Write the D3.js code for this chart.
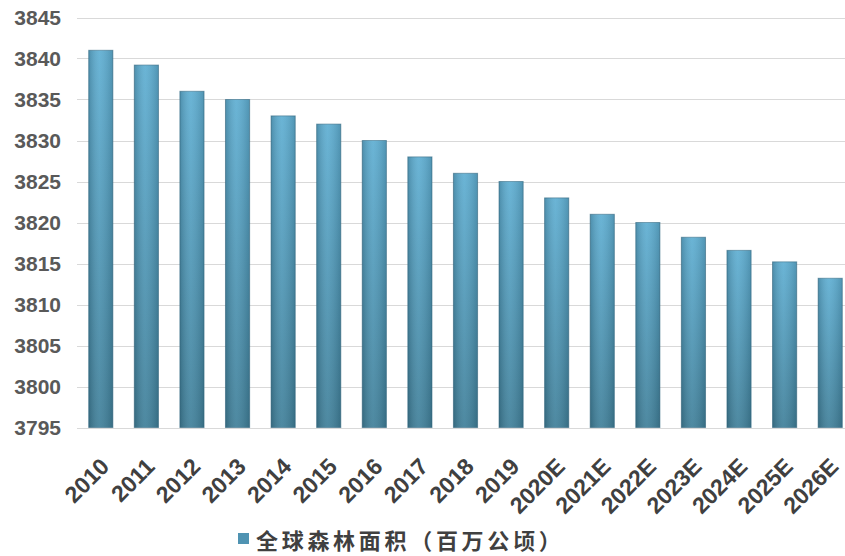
<!DOCTYPE html>
<html><head><meta charset="utf-8">
<script src="https://cdn.jsdelivr.net/npm/d3@7"></script>
<style>
html,body{margin:0;padding:0;background:#fff;}
svg{display:block;}
</style></head>
<body>
<svg id="chart" width="845" height="556"></svg>
<script>
const categories = ["2010","2011","2012","2013","2014","2015","2016","2017","2018","2019","2020E","2021E","2022E","2023E","2024E","2025E","2026E"];
const values = [3841,3839.2,3836,3835,3833,3832,3830,3828,3826,3825,3823,3821,3820,3818.2,3816.6,3815.2,3813.2];
const yTicks = [3795,3800,3805,3810,3815,3820,3825,3830,3835,3840,3845];
const seriesName = "全球森林面积（百万公顷）";

const svg = d3.select("#chart");
const defs = svg.append("defs");
const gv = defs.append("linearGradient").attr("id","gv").attr("x1",0).attr("y1",0).attr("x2",0).attr("y2",1);
gv.append("stop").attr("offset","0%").attr("stop-color","#5eaed2");
gv.append("stop").attr("offset","100%").attr("stop-color","#3f7f99");
const gh = defs.append("linearGradient").attr("id","gh").attr("x1",0).attr("y1",0).attr("x2",1).attr("y2",0);
gh.append("stop").attr("offset","0%").attr("stop-color","#000").attr("stop-opacity",0.18);
gh.append("stop").attr("offset","45%").attr("stop-color","#fff").attr("stop-opacity",0.08);
gh.append("stop").attr("offset","100%").attr("stop-color","#000").attr("stop-opacity",0.15);

const x = d3.scaleBand().domain(categories).range([78, 853]).paddingInner(0.47).paddingOuter(0.235);
const y = d3.scaleLinear().domain([3795, 3845]).range([427.5, 17.5]);

// gridlines
svg.append("g").selectAll("line").data(yTicks).join("line")
  .attr("x1", 77).attr("x2", 845)
  .attr("y1", d => Math.round(y(d)) + 0.5).attr("y2", d => Math.round(y(d)) + 0.5)
  .attr("stroke", "#d9d9d9").attr("stroke-width", 1);

// y axis labels
const yAxis = d3.axisLeft(y).tickValues(yTicks).tickSize(0).tickPadding(0).tickFormat(d3.format("d"));
const ya = svg.append("g").attr("transform","translate(61,0)").call(yAxis);
ya.select(".domain").remove();
ya.selectAll("text").attr("font-family","Liberation Sans, Arial, sans-serif")
  .attr("font-weight","bold").attr("font-size","21px").attr("fill","#595959");

// bars
const bars = svg.append("g");
bars.selectAll("rect.b").data(values).join("rect").attr("class","b")
  .attr("x",(d,i)=>x(categories[i])).attr("width",x.bandwidth())
  .attr("y",d=>y(d)).attr("height",d=>y(3795)-y(d))
  .attr("fill","url(#gv)").attr("stroke","#3a7088").attr("stroke-width",1).attr("stroke-opacity",0.6);
bars.selectAll("rect.h").data(values).join("rect").attr("class","h")
  .attr("x",(d,i)=>x(categories[i])).attr("width",x.bandwidth())
  .attr("y",d=>y(d)).attr("height",d=>y(3795)-y(d))
  .attr("fill","url(#gh)");

// x axis labels
const xAxis = d3.axisBottom(x).tickSize(0).tickPadding(0);
const xa = svg.append("g").attr("transform","translate(0,454)").call(xAxis);
xa.select(".domain").remove();
xa.selectAll("text")
  .attr("font-family","Liberation Sans, Arial, sans-serif")
  .attr("font-weight","bold").attr("font-size","23px").attr("fill","#404040")
  .attr("text-anchor","end").attr("dy","0").attr("y",0).attr("x",-3)
  .attr("transform","rotate(-45)")
  .attr("dominant-baseline","hanging");

// legend
const lg = svg.append("g").attr("transform","translate(238,533)");
lg.append("rect").attr("width",11).attr("height",11).attr("fill","#4f93b2");
lg.append("text").attr("x",18).attr("y",5.5).attr("dominant-baseline","central")
  .attr("font-family","Noto Sans CJK SC, sans-serif").attr("font-weight","bold")
  .attr("font-size","22px").attr("fill","#404040").attr("letter-spacing","3.7px")
  .text(seriesName);
</script>
</body></html>
